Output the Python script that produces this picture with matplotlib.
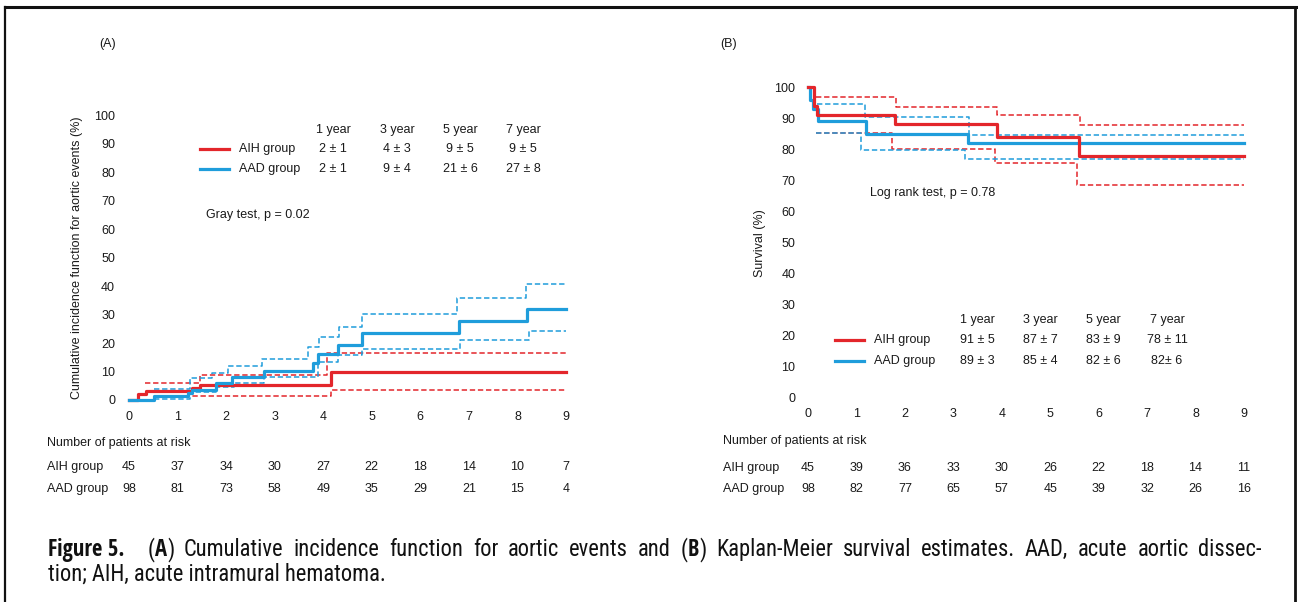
import matplotlib
matplotlib.use("Agg")
import matplotlib.pyplot as plt
from matplotlib.lines import Line2D
from matplotlib import font_manager
from matplotlib.font_manager import FontProperties

plt.rcParams['font.family'] = ['Liberation Sans', 'DejaVu Sans']

W, H = 1298, 602
RED = '#e3262b'
BLUE = '#1f9ddb'
TXT = '#1a1a1a'
FS = 9

# ---------------- data ----------------
years = [0, 1, 2, 3, 4, 5, 6, 7, 8, 9]
yticks = [0, 10, 20, 30, 40, 50, 60, 70, 80, 90, 100]

# Panel A: cumulative incidence (%)
a_aih_t = [0, 0.18, 0.34, 1.30, 1.46, 4.16, 9]
a_aih_v = [0, 2.0, 3.3, 4.2, 5.3, 9.8, 9.8]
a_aih_up_t = [0.33, 1.46, 4.08, 9]
a_aih_up_v = [5.9, 8.8, 16.4, 16.4]
a_aih_lo_t = [0.64, 4.16, 9]
a_aih_lo_v = [1.4, 3.5, 3.5]

a_aad_t = [0, 0.51, 1.22, 1.30, 1.79, 2.13, 2.79, 3.79, 3.89, 4.30, 4.80, 6.80, 8.19, 9]
a_aad_v = [0, 1.4, 2.6, 3.5, 5.9, 8.0, 10.3, 12.9, 16.0, 19.3, 23.4, 27.9, 31.9, 31.9]
a_aad_up_t = [0.51, 1.25, 1.71, 2.03, 2.74, 3.68, 3.92, 4.32, 4.80, 6.76, 8.18, 9]
a_aad_up_v = [3.9, 7.6, 9.6, 12.0, 14.5, 18.8, 22.3, 25.6, 30.2, 35.8, 40.9, 40.9]
a_aad_lo_t = [0.51, 1.25, 1.79, 2.16, 2.79, 3.89, 4.30, 4.80, 6.81, 8.23, 9]
a_aad_lo_v = [0.3, 2.9, 4.5, 6.1, 8.0, 13.5, 15.8, 17.8, 21.1, 24.3, 24.3]

# Panel B: survival (%)
b_aih_t = [0, 0.12, 0.19, 1.80, 3.90, 5.60, 9]
b_aih_v = [100, 94, 91.1, 88.1, 84.1, 78.0, 78.0]
b_aad_t = [0, 0.05, 0.10, 0.21, 1.20, 3.30, 9]
b_aad_v = [100, 96, 93, 89.2, 85.0, 82.1, 82.1]
b_aih_up_t = [0.17, 1.82, 3.90, 5.62, 9]
b_aih_up_v = [97.0, 93.8, 91.0, 87.9, 87.9]
b_aih_lo_t = [0.17, 1.73, 3.85, 5.55, 9]
b_aih_lo_v = [85.2, 80.2, 75.7, 68.6, 68.6]
b_aad_up_t = [0.18, 1.18, 3.32, 9]
b_aad_up_v = [94.5, 90.5, 84.5, 84.5]
b_aad_lo_t = [0.17, 1.09, 3.24, 9]
b_aad_lo_v = [85.2, 79.7, 76.8, 76.8]

groups = ['AIH group', 'AAD group']
table_years = ['1 year', '3 year', '5 year', '7 year']
a_table = [['2 \u00b1 1', '4 \u00b1 3', '9 \u00b1 5', '9 \u00b1 5'],
           ['2 \u00b1 1', '9 \u00b1 4', '21 \u00b1 6', '27 \u00b1 8']]
b_table = [['91 \u00b1 5', '87 \u00b1 7', '83 \u00b1 9', '78 \u00b1 11'],
           ['89 \u00b1 3', '85 \u00b1 4', '82 \u00b1 6', '82\u00b1 6']]

a_risk_aih = [45, 37, 34, 30, 27, 22, 18, 14, 10, 7]
a_risk_aad = [98, 81, 73, 58, 49, 35, 29, 21, 15, 4]
b_risk_aih = [45, 39, 36, 33, 30, 26, 22, 18, 14, 11]
b_risk_aad = [98, 82, 77, 65, 57, 45, 39, 32, 26, 16]

caption_head = 'Figure 5.'
caption_line1 = ('(**A**) Cumulative incidence function for aortic events and (**B**) '
                 'Kaplan-Meier survival estimates. AAD, acute aortic dissec-')
caption_line2 = 'tion; AIH, acute intramural hematoma.'

# ---------------- figure ----------------
fig = plt.figure(figsize=(W / 100, H / 100), dpi=100)


def px(x, y):
    return x / W, 1 - y / H


def ftext(x, y, s, **kw):
    kw.setdefault('fontsize', FS)
    kw.setdefault('color', TXT)
    return fig.text(x / W, 1 - y / H, s, **kw)


def make_axes(x0, x9, y0, y100):
    ax = fig.add_axes([x0 / W, 1 - y0 / H, (x9 - x0) / W, (y0 - y100) / H])
    ax.set_xlim(0, 9)
    ax.set_ylim(0, 100)
    for s in ax.spines.values():
        s.set_visible(False)
    ax.set_xticks(years)
    ax.set_yticks(yticks)
    ax.tick_params(length=0, labelsize=FS, labelcolor=TXT)
    ax.patch.set_alpha(0)
    return ax


def draw(ax, t, v, color, dashed=False):
    if dashed:
        ax.step(t, v, where='post', color=color, lw=1.1, ls=(0, (3.5, 1.8)), clip_on=False)
    else:
        ax.step(t, v, where='post', color=color, lw=2.3, clip_on=False)


# Panel A
axA = make_axes(129, 566, 400, 115.5)
axA.tick_params(axis='y', pad=10)
axA.tick_params(axis='x', pad=8)
draw(axA, a_aih_up_t, a_aih_up_v, RED, True)
draw(axA, a_aih_lo_t, a_aih_lo_v, RED, True)
draw(axA, a_aad_up_t, a_aad_up_v, BLUE, True)
draw(axA, a_aad_lo_t, a_aad_lo_v, BLUE, True)
draw(axA, a_aih_t, a_aih_v, RED)
draw(axA, a_aad_t, a_aad_v, BLUE)
axA.set_ylabel('Cumulative incidence function for aortic events (%)', fontsize=FS, color=TXT,
               labelpad=8)

# Panel B
axB = make_axes(808, 1244, 398, 87.3)
axB.tick_params(axis='y', pad=9)
axB.tick_params(axis='x', pad=7)
draw(axB, b_aih_up_t, b_aih_up_v, RED, True)
draw(axB, b_aih_lo_t, b_aih_lo_v, RED, True)
draw(axB, b_aad_up_t, b_aad_up_v, BLUE, True)
draw(axB, b_aad_lo_t, b_aad_lo_v, BLUE, True)
draw(axB, b_aad_t, b_aad_v, BLUE)
draw(axB, b_aih_t, b_aih_v, RED)
axB.set_ylabel('Survival (%)', fontsize=FS, color=TXT, labelpad=6)

# panel labels
ftext(108, 44, '(A)', ha='center', va='center')
ftext(729, 44, '(B)', ha='center', va='center')


def legend_table(xline0, xline1, xlab, cols, yhead, yrows, table):
    for c, lab in zip(cols, table_years):
        ftext(c, yhead, lab, ha='center', va='center')
    for i, (g, col, yr) in enumerate(zip(groups, [RED, BLUE], yrows)):
        x0, y0 = px(xline0, yr)
        x1, _ = px(xline1, yr)
        fig.add_artist(Line2D([x0, x1], [y0, y0], color=col, lw=2.3, transform=fig.transFigure))
        ftext(xlab, yr, g, ha='left', va='center')
        for c, s in zip(cols, table[i]):
            ftext(c, yr, s, ha='center', va='center')


legend_table(200, 229, 239, [333, 397, 460, 523], 130, [149, 169], a_table)
legend_table(835, 864, 874, [977, 1040, 1103, 1167], 320, [340, 361], b_table)

ftext(206, 215, 'Gray test, p = 0.02', ha='left', va='center')
ftext(870, 193, 'Log rank test, p = 0.78', ha='left', va='center')


def risk_table(xlab, xs, ytitle, yrows, rows):
    ftext(xlab, ytitle, 'Number of patients at risk', ha='left', va='center')
    for g, yr, vals in zip(groups, yrows, rows):
        ftext(xlab, yr, g, ha='left', va='center')
        for x, v in zip(xs, vals):
            ftext(x, yr, str(v), ha='center', va='center')


xsA = [129 + i * (566 - 129) / 9 for i in years]
xsB = [808 + i * (1244 - 808) / 9 for i in years]
risk_table(47, xsA, 443, [467, 489], [a_risk_aih, a_risk_aad])
risk_table(723, xsB, 441, [468, 489], [b_risk_aih, b_risk_aad])


# caption: prefer a narrow / condensed face if one is installed
def find_face(bold):
    best = None
    for f in font_manager.fontManager.ttflist:
        nm = f.name.lower()
        fn = f.fname.lower()
        narrow = ('narrow' in nm or 'narrow' in fn or 'condensed' in nm or 'condensed' in fn
                  or str(f.stretch) in ('condensed', 'semi-condensed', 'extra-condensed'))
        if not narrow or f.style != 'normal':
            continue
        w = f.weight if isinstance(f.weight, int) else (700 if 'bold' in str(f.weight) else 400)
        if bold != (w >= 600):
            continue
        score = 0
        if 'liberation' in nm:
            score = 3
        elif 'roboto' in nm or 'noto' in nm or 'open' in nm:
            score = 2
        elif 'dejavu' in nm:
            score = 1
        if best is None or score > best[0]:
            best = (score, f.fname)
    return best[1] if best else None


reg_file = find_face(False)
bold_file = find_face(True)


def cap_props(size, bold):
    fname = bold_file if bold else reg_file
    if fname:
        return dict(fontproperties=FontProperties(fname=fname, size=size))
    return dict(fontsize=size, fontweight='bold' if bold else 'normal',
                family=['Liberation Sans', 'DejaVu Sans'])


renderer = fig.canvas.get_renderer()
CAP_COL = '#111111'


def put(x, y, s, size, bold, visible=True):
    t = fig.text(x / W, 1 - y / H, s, ha='left', va='baseline', color=CAP_COL,
                 **cap_props(size, bold))
    w = t.get_window_extent(renderer).width
    if not visible:
        t.remove()
    return w


# size the caption so the (unjustified) second line has the reference width (337 px)
w12 = put(0, 0, caption_line2, 12, False, visible=False)
cap_size = 12 * 337 / w12


def segments(word):
    parts = word.split('**')
    return [(p, i % 2 == 1) for i, p in enumerate(parts) if p]


def word_width(word):
    return sum(put(0, 0, s, cap_size, b, visible=False) for s, b in segments(word))


def put_word(x, y, word):
    for s, b in segments(word):
        x += put(x, y, s, cap_size, b)
    return x


base1, base2 = 556, 581
put(48, base1, caption_head, cap_size, True)
# justified first line from x=148 to x=1262
words = caption_line1.split(' ')
widths = [word_width(w) for w in words]
gap = (1262 - 148 - sum(widths)) / (len(words) - 1)
x = 148
for w, wd in zip(words, widths):
    put_word(x, base1, w)
    x += wd + gap
put(48, base2, caption_line2, cap_size, False)

# frame
fig.add_artist(Line2D([5 / W, 1296 / W], [1 - 7 / H, 1 - 7 / H], color='#111111', lw=2.2,
                      transform=fig.transFigure))
fig.add_artist(Line2D([5 / W, 5 / W], [1 - 7 / H, 0], color='#111111', lw=1.6,
                      transform=fig.transFigure))
fig.add_artist(Line2D([1295 / W, 1295 / W], [1 - 7 / H, 0], color='#111111', lw=2.0,
                      transform=fig.transFigure))

fig.savefig('out.png', dpi=100)
